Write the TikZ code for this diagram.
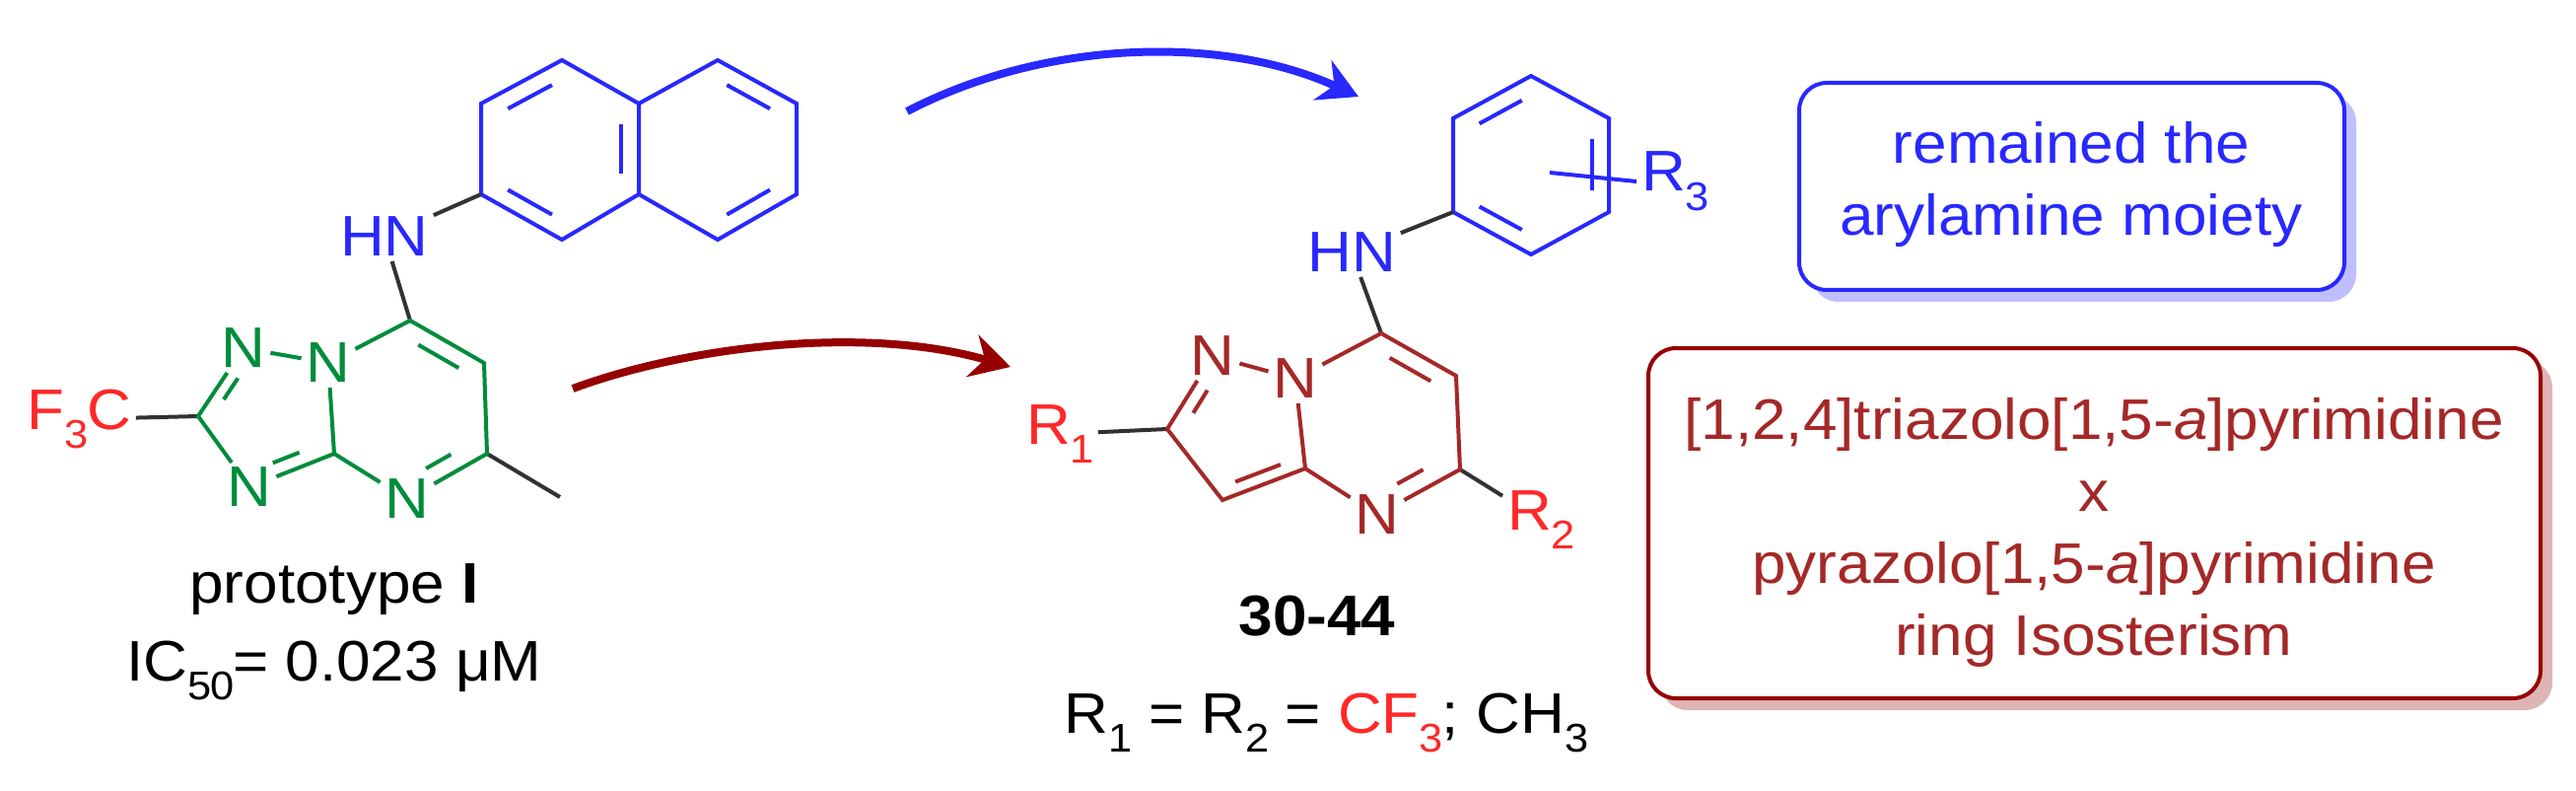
\documentclass[tikz,border=0pt]{standalone}
\usepackage{fontspec}
\setmainfont[FakeStretch=1.07]{Liberation Sans}
\usetikzlibrary{calc,arrows.meta}
\definecolor{gr}{RGB}{0,140,60}
\definecolor{bl}{RGB}{40,40,255}
\definecolor{dr}{RGB}{165,40,40}
\definecolor{rd}{RGB}{255,40,40}
\definecolor{ar}{RGB}{150,0,0}
\definecolor{gy}{RGB}{50,50,50}
\newcommand\fsz{\fontsize{58}{73}\selectfont}
\newcommand\dbl[5][]{\draw[#1] ($(#2)!#5!(#3)!.22!(#4)$) -- ($(#2)!1-#5!(#3)!.22!(#4)$);}
\tikzset{bond/.style={line width=4pt},
 atom/.style={inner sep=3pt,font=\fsz},
 lbl/.style={font=\fsz,inner sep=0pt},
 bigarrow/.style={line width=8pt,-{Stealth[length=40pt,width=44pt]}}}
\begin{document}
\begin{tikzpicture}[x=1pt,y=-1pt]
\useasboundingbox (0,0) rectangle (2613,802);
% ---------- left molecule ----------
\begin{scope}[bond]
\foreach \n/\x/\y in {a1/488/105,a2/570/61,a3/648/105,a4/648/197,a5/570/243,a6/488/197,b2/728/61,b3/808/105,b4/808/197,b5/728/243,ca/568/152,cb/728/152,
 c7/416/325,c6/491/368,c5/494/460,c3a/339/460,c2/201/422,me/568/504,pc/414/414,tc/270/418}
 \coordinate (\n) at (\x,\y);
\node[atom,bl] (hn) at (390,240) {HN};
\node[atom,gr] (n8) at (333,368) {N};
\node[atom,gr] (n4) at (413,506) {N};
\node[atom,gr] (n1) at (247,353) {N};
\node[atom,gr] (n3) at (253,494) {N};
\node[atom,rd] (f3c) at (80,425) {F$_{\mathrm{3}}$C};
\draw[bl] (a1)--(a2)--(a3)--(a4)--(a5)--(a6)--cycle (a3)--(b2)--(b3)--(b4)--(b5)--(a4);
\dbl[bl]{a1}{a2}{ca}{.15}\dbl[bl]{a3}{a4}{ca}{.15}\dbl[bl]{a6}{a5}{ca}{.15}
\dbl[bl]{b2}{b3}{cb}{.15}\dbl[bl]{b4}{b5}{cb}{.15}
\draw[gy] (hn)--(a6) (hn)--(c7) (f3c)--(c2) (c5)--(me);
\draw[gr] (n8)--(c7)--(c6)--(c5)--(n4)--(c3a)--(n8) (n8)--(n1)--(c2)--(n3)--(c3a);
\dbl[gr]{c7}{c6}{pc}{.15}\dbl[gr]{c5}{n4}{pc}{.3}
\dbl[gr]{n1}{c2}{tc}{.3}\dbl[gr]{n3}{c3a}{tc}{.3}
\end{scope}
\node[lbl] (proto) at (339,598) {prototype \textbf{I}};
\node[lbl] (ic) at (339,680) {IC$_{\mathrm{50}}$= 0.023 μM};
% ---------- middle molecule ----------
\begin{scope}[bond]
\foreach \n/\x/\y in {p1/1474/120,p2/1553/77,p3/1632/120,p4/1632/215,p5/1553/258,p6/1474/215,pcn/1553/167,r3s/1572/175,
 d7/1401/338,d6/1477/381,d5/1481/476,d3a/1324/475,d2/1184/435,d3/1240/507,dc/1400/428,zc/1255/440}
 \coordinate (\n) at (\x,\y);
\node[atom,bl] (hn2) at (1371,256) {HN};
\node[atom,bl,anchor=west] (r3) at (1660,184) {R$_{\mathrm{3}}$};
\node[atom,dr] (m8) at (1314,384) {N};
\node[atom,dr] (m4) at (1397,522) {N};
\node[atom,dr] (m1) at (1230,361) {N};
\node[atom,rd] (r1) at (1075,440) {R$_{\mathrm{1}}$};
\node[atom,rd] (r2) at (1563,527) {R$_{\mathrm{2}}$};
\draw[bl] (p1)--(p2)--(p3)--(p4)--(p5)--(p6)--cycle (r3s)--(r3.west);
\dbl[bl]{p1}{p2}{pcn}{.15}\dbl[bl]{p3}{p4}{pcn}{.15}\dbl[bl]{p6}{p5}{pcn}{.15}
\draw[gy] (hn2)--(p6) (hn2)--(d7) (r1)--(d2) (d5)--(r2);
\draw[dr] (m8)--(d7)--(d6)--(d5)--(m4)--(d3a)--(m8) (m8)--(m1)--(d2)--(d3)--(d3a);
\dbl[dr]{d7}{d6}{dc}{.15}\dbl[dr]{d5}{m4}{dc}{.3}
\dbl[dr]{m1}{d2}{zc}{.3}\dbl[dr]{d3}{d3a}{zc}{.15}
\end{scope}
\node[lbl] (num) at (1336,625) {\textbf{30-44}};
\node[lbl] (rr) at (1345,733) {R$_{\mathrm{1}}$ = R$_{\mathrm{2}}$ = \textcolor{rd}{CF$_{\mathrm{3}}$}; CH$_{\mathrm{3}}$};
% ---------- arrows ----------
\coordinate (bs) at (920,113); \coordinate (be) at (1378,98);
\coordinate (rs) at (581,394); \coordinate (re) at (1025,372);
\draw[bigarrow,bl] (bs) .. controls (1060,40) and (1240,35) .. (be);
\draw[bigarrow,ar] (rs) .. controls (700,350) and (880,330) .. (re);
% ---------- boxes ----------
\fill[blue!25,rounded corners=28pt] (1837,96) rectangle (2390,306);
\draw[bl,line width=4pt,fill=white,rounded corners=28pt] (1825,84) rectangle (2378,294);
\node[lbl,bl,align=center] (bt) at (2101,187) {remained the\\arylamine moiety};
\fill[dr!35,rounded corners=28pt] (1684,365) rectangle (2589,720);
\draw[ar,line width=4pt,fill=white,rounded corners=28pt] (1672,353) rectangle (2577,708);
\node[lbl,dr,align=center] (rt) at (2124,540) {[1,2,4]triazolo[1,5-\textit{a}]pyrimidine\\x\\pyrazolo[1,5-\textit{a}]pyrimidine\\ring Isosterism};
\end{tikzpicture}
\end{document}
